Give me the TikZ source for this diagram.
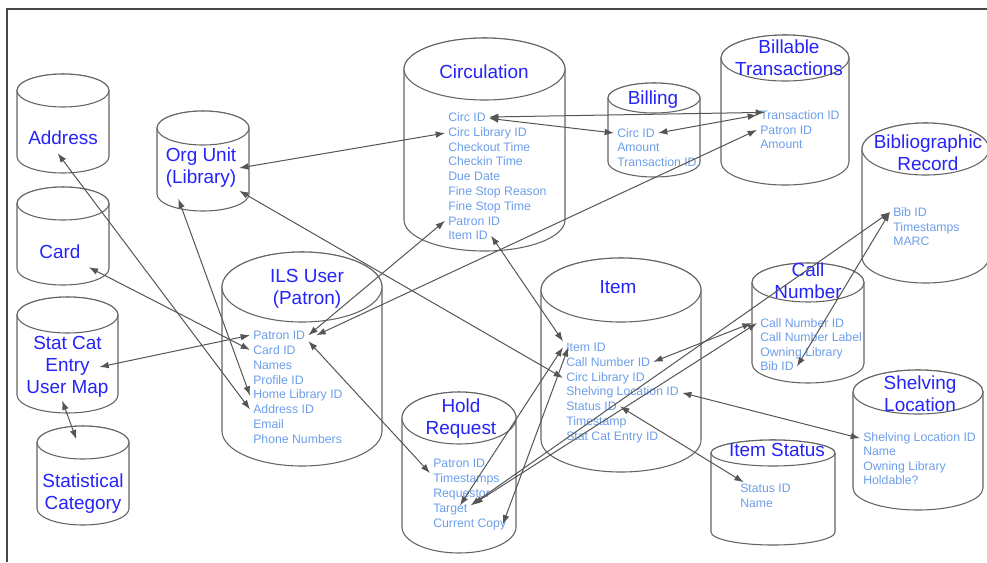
\documentclass[tikz,border=0pt]{standalone}
\usepackage{fontspec}
\setmainfont{Liberation Sans}
\usetikzlibrary{arrows.meta}
\definecolor{ttlblue}{RGB}{35,35,250}
\definecolor{fldblue}{RGB}{109,158,235}
\definecolor{cylgray}{RGB}{100,100,100}
\definecolor{congray}{RGB}{85,85,85}
\definecolor{framegray}{RGB}{70,70,70}
\tikzset{
  cyl/.style={draw=cylgray, fill=white, line width=0.8pt},
  ttl/.style={text=ttlblue, font=\fontsize{14.2}{16.5}\selectfont, align=center, inner sep=2pt},
  fld/.style={text=fldblue, font=\fontsize{9.2}{11}\selectfont, anchor=base west, inner xsep=2.25pt, inner ysep=1pt},
  con/.style={draw=congray, line width=0.75pt, {Latex[length=7pt,width=5pt]}-{Latex[length=7pt,width=5pt]}},
}
\newcommand\dbcyl[5]{%
  \filldraw[cyl] (#1,{-(#2+#5)}) -- (#1,{-(#4-#5)})
    arc[start angle=180,end angle=360,x radius={(#3-#1)/2},y radius=#5]
    -- (#3,{-(#2+#5)})
    arc[start angle=0,end angle=180,x radius={(#3-#1)/2},y radius=#5] -- cycle;
  \draw[cyl] ({(#1+#3)/2},{-(#2+#5)}) ellipse[x radius={(#3-#1)/2},y radius=#5];}
\newcommand\fld[4]{\node[fld] (#1) at ({#2-3},{-(#3+4.4)}) {#4};}
\begin{document}
\begin{tikzpicture}[x=0.75pt,y=0.75pt]
\useasboundingbox (0,0) rectangle (987,-562);
\clip (0,0) rectangle (987,-562);
\fill[white] (0,0) rectangle (987,-562);
\draw[framegray, line width=1.2pt] (7,-562) -- (7,-9) -- (987,-9);

% cylinders
\dbcyl{17}{74}{109}{173}{16.5}
\dbcyl{17}{187}{109}{285}{16.5}
\dbcyl{157}{111}{249}{211}{17}
\dbcyl{17}{297}{118}{413}{18}
\dbcyl{37}{426}{129}{525}{16.5}
\dbcyl{222}{252}{382}{466}{35}
\dbcyl{404}{38}{565}{251}{31}
\dbcyl{608}{83}{700}{177}{15}
\dbcyl{721}{35}{849}{185}{23}
\dbcyl{862}{123}{989}{283}{26}
\dbcyl{752}{263}{864}{383}{19.5}
\dbcyl{541}{258}{701}{472}{32}
\dbcyl{402}{392}{516}{553}{26}
\dbcyl{711}{440}{835}{545}{13}
\dbcyl{853}{370}{983}{510}{22}

% titles
\node[ttl] (addr) at (63,-138) {Address};
\node[ttl] (card) at (60,-252) {Card};
\node[ttl] (ou) at (201,-168) {Org Unit\\(Library)};
\node[ttl] (sc) at (67.5,-367) {Stat Cat\\Entry\\User Map};
\node[ttl] (stat) at (83,-494) {Statistical\\Category};
\node[ttl] (ils) at (307,-289) {ILS User\\(Patron)};
\node[ttl] (circ) at (484,-72) {Circulation};
\node[ttl] (bil) at (653,-100) {Billing};
\node[ttl] (bt) at (789,-58) {Billable\\Transactions};
\node[ttl] (bib) at (928,-153) {Bibliographic\\Record};
\node[ttl] (cn) at (808,-281) {Call\\Number};
\node[ttl] (item) at (618,-287) {Item};
\node[ttl] (hold) at (461,-419) {Hold\\Request};
\node[ttl] (is) at (777,-450) {Item Status};
\node[ttl] (sl) at (920,-394) {Shelving\\Location};

% fields: Circulation
\fld{circ-id}{448}{117}{Circ ID}
\fld{circ-lib}{448}{131.8}{Circ Library ID}
\fld{circ-co}{448}{146.6}{Checkout Time}
\fld{circ-ci}{448}{161.4}{Checkin Time}
\fld{circ-dd}{448}{176.2}{Due Date}
\fld{circ-fsr}{448}{191}{Fine Stop Reason}
\fld{circ-fst}{448}{205.8}{Fine Stop Time}
\fld{circ-pid}{448}{220.6}{Patron ID}
\fld{circ-item}{448}{235.4}{Item ID}
% Billing
\fld{bil-cid}{617}{133}{Circ ID}
\fld{bil-amt}{617}{147.5}{Amount}
\fld{bil-tid}{617}{162}{Transaction ID}
% Billable Transactions
\fld{bt-tid}{760}{115}{Transaction ID}
\fld{bt-pid}{760}{129.7}{Patron ID}
\fld{bt-amt}{760}{144.4}{Amount}
% Bibliographic Record
\fld{bib-id}{893}{212}{Bib ID}
\fld{bib-ts}{893}{226.7}{Timestamps}
\fld{bib-marc}{893}{241.4}{MARC}
% ILS User
\fld{ils-pid}{253}{335}{Patron ID}
\fld{ils-card}{253}{349.9}{Card ID}
\fld{ils-names}{253}{364.7}{Names}
\fld{ils-prof}{253}{379.6}{Profile ID}
\fld{ils-hl}{253}{394.4}{Home Library ID}
\fld{ils-addr}{253}{409.3}{Address ID}
\fld{ils-email}{253}{424.2}{Email}
\fld{ils-phone}{253}{439}{Phone Numbers}
% Call Number
\fld{cn-id}{760}{323}{Call Number ID}
\fld{cn-label}{760}{337.5}{Call Number Label}
\fld{cn-own}{760}{352}{Owning Library}
\fld{cn-bib}{760}{366.5}{Bib ID}
% Item
\fld{item-id}{566}{347}{Item ID}
\fld{item-cn}{566}{361.8}{Call Number ID}
\fld{item-cl}{566}{376.7}{Circ Library ID}
\fld{item-sl}{566}{391.5}{Shelving Location ID}
\fld{item-st}{566}{406.3}{Status ID}
\fld{item-ts}{566}{421.2}{Timestamp}
\fld{item-sc}{566}{436}{Stat Cat Entry ID}
% Hold Request
\fld{hold-pid}{433}{463}{Patron ID}
\fld{hold-ts}{433}{478}{Timestamps}
\fld{hold-req}{433}{493}{Requestor}
\fld{hold-tgt}{433}{508}{Target}
\fld{hold-cc}{433}{523}{Current Copy}
% Item Status
\fld{is-sid}{740}{488}{Status ID}
\fld{is-name}{740}{503}{Name}
% Shelving Location
\fld{sl-id}{863}{437}{Shelving Location ID}
\fld{sl-name}{863}{451.5}{Name}
\fld{sl-own}{863}{466}{Owning Library}
\fld{sl-hold}{863}{480.5}{Holdable?}

% connectors
\draw[con] (ou.east) -- (circ-lib.west);
\draw[con] (circ-id.east) -- ([xshift=6pt,yshift=2pt]bt-tid.west);
\draw[con] ([yshift=-1pt]circ-id.east) -- (bil-cid.west);
\draw[con] (bil-cid.east) -- (bt-tid.west);
\draw[con] ([xshift=6pt]ils-pid.east) -- (bt-pid.west);
\draw[con] (ils-pid.east) -- (circ-pid.west);
\draw[con] (circ-item.east) -- (item-id.north west);
\draw[con] (ou.south east) -- (item-cl.west);
\draw[con] ([xshift=-17pt,yshift=-6pt]ou.south) -- (ils-hl.west);
\draw[con] ([xshift=-4pt,yshift=-4pt]addr.south) -- (ils-addr.west);
\draw[con] ([xshift=4pt,yshift=-4pt]card.south east) -- (ils-card.west);
\draw[con] ([xshift=-9pt]sc.east) -- (ils-pid.west);
\draw[con] ([xshift=-4pt]sc.south) -- ([xshift=-5pt,yshift=24pt]stat.north);
\draw[con] (ils-pid.south east) -- ([yshift=-3pt]hold-pid.south west);
\draw[con] ([xshift=-8pt,yshift=3pt]hold-tgt.east) -- (item-id.west);
\draw[con] ([xshift=-5pt]hold-cc.east) -- ([xshift=4pt]item-id.west);
\draw[con] ([yshift=3pt]hold-tgt.east) -- (bib-id.west);
\draw[con] ([xshift=2pt,yshift=4pt]hold-tgt.east) -- (cn-id.west);
\draw[con] (item-cn.east) -- ([xshift=-4pt]cn-id.west);
\draw[con] (cn-bib.east) -- (bib-id.west);
\draw[con] (item-sl.east) -- (sl-id.west);
\draw[con] (item-st.east) -- ([xshift=5pt]is-sid.north west);
\end{tikzpicture}
\end{document}
